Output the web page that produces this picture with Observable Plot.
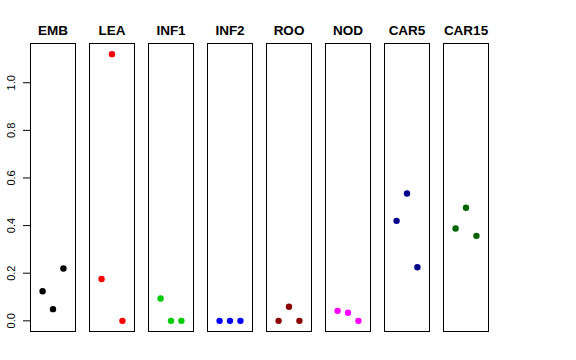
<!DOCTYPE html>
<html>
<head>
<meta charset="utf-8">
<script src="https://cdn.jsdelivr.net/npm/d3@7"></script>
<script src="https://cdn.jsdelivr.net/npm/@observablehq/plot@0.6"></script>
<style>
  html, body { margin: 0; padding: 0; background: #fff; }
  #chart { width: 576px; height: 360px; }
</style>
</head>
<body>
<div id="chart"></div>
<script>
const groups = ["EMB", "LEA", "INF1", "INF2", "ROO", "NOD", "CAR5", "CAR15"];
const colors = ["#000000", "#FF0000", "#00CD00", "#0000FF", "#8B0000", "#FF00FF", "#00008B", "#006400"];
const rep1 = [0.124, 0.176, 0.094, 0.000, 0.000, 0.042, 0.420, 0.388];
const rep2 = [0.049, 1.120, 0.000, 0.000, 0.059, 0.034, 0.535, 0.475];
const rep3 = [0.220, 0.000, 0.000, 0.000, 0.000, 0.000, 0.225, 0.357];
const yTicks = [0, 0.2, 0.4, 0.6, 0.8, 1.0];

const data = [];
groups.forEach((g, i) => {
  [rep1, rep2, rep3].forEach((arr, j) => {
    data.push({group: g, rep: j + 1, value: arr[i]});
  });
});

const fmt = d3.format(".1f");

const chart = Plot.plot({
  width: 576,
  height: 360,
  marginLeft: 29,
  marginRight: 88,
  marginTop: 43,
  marginBottom: 29,
  style: {fontFamily: "'Liberation Sans', Arial, Helvetica, sans-serif", background: "#fff", color: "#000"},
  fx: {domain: groups, paddingInner: 0.24, paddingOuter: 0, axis: null, label: null},
  x: {domain: [-0.16, 4.16], axis: null},
  y: {domain: [-0.0448, 1.1648], axis: null},
  color: {domain: groups, range: colors},
  marks: [
    Plot.frame({stroke: "#000", strokeWidth: 1}),
    Plot.dot(data, {fx: "group", x: "rep", y: "value", fill: "group", r: 3.2, stroke: null}),
    Plot.axisFx({anchor: "top", tickSize: 0, tickPadding: 9, fontSize: 13.5, fontWeight: "bold", label: null}),
    Plot.axisY({ticks: yTicks, tickSize: 7, tickFormat: () => "", label: null, stroke: "#000"}),
    Plot.text(yTicks, {
      y: d => d,
      text: d => fmt(d),
      frameAnchor: "left",
      facetAnchor: "left",
      dx: -16,
      rotate: -90,
      textAnchor: "middle",
      lineAnchor: "bottom",
      fontSize: 11,
      fill: "#000"
    })
  ]
});
document.getElementById("chart").appendChild(chart);
</script>
</body>
</html>
